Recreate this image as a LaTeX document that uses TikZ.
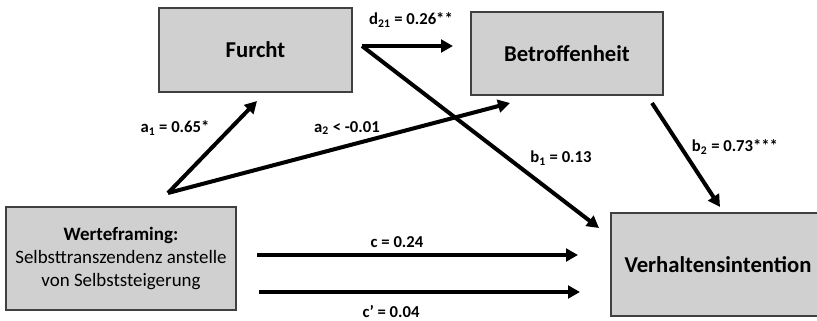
\documentclass[tikz,border=0pt]{standalone}
\usepackage{fontspec}
\setmainfont{Carlito}
\usetikzlibrary{arrows.meta}
\definecolor{kastgrau}{RGB}{208,208,208}
\begin{document}
\begin{tikzpicture}[x=0.75pt,y=-0.75pt,
  kasten/.style={draw=black!75,line width=0.8pt,fill=kastgrau,inner sep=0pt,align=center},
  titel/.style={font=\fontsize{17}{20}\selectfont\bfseries},
  beschr/.style={font=\fontsize{12.5}{15}\selectfont\bfseries,inner sep=0pt},
  pfeil/.style={line width=3pt,-{Triangle[length=9pt,width=9.5pt]}}]
\useasboundingbox (0,0) rectangle (817,321);
\node[kasten,titel,minimum width=144.75pt,minimum height=63pt] (furcht) at (255.5,50) {Furcht};
\node[kasten,titel,minimum width=144pt,minimum height=62.25pt] (betroff) at (567,53.5) {Betroffenheit};
\node[kasten,minimum width=172.5pt,minimum height=77.25pt,font=\fontsize{14.2}{17.25}\selectfont] (werte) at (121,258.5)
  {\textbf{Werteframing:}\\Selbsttranszendenz anstelle\\von Selbststeigerung};
\node[kasten,titel,minimum width=160.5pt,minimum height=77.25pt] (verhalten) at (718,264.5) {Verhaltensintention};
\coordinate (ws) at (168,193);
\coordinate (fs) at (362,46);
\coordinate (a1e) at (257,101);
\coordinate (a2e) at (510,103);
\coordinate (de) at (453,46);
\coordinate (b1e) at (599,228);
\coordinate (b2s) at (652,103);
\coordinate (b2e) at (720,207);
\coordinate (cs) at (257,255);
\coordinate (ce) at (578,255);
\coordinate (cps) at (259,292);
\coordinate (cpe) at (580,292);
\foreach \s/\e in {ws/a1e,ws/a2e,fs/de,fs/b1e,b2s/b2e,cs/ce,cps/cpe}
  \draw[pfeil] (\s) -- (\e);
\node[beschr] (la1) at (175,128) {a\textsubscript{1} = 0.65*};
\node[beschr] (la2) at (347,128) {a\textsubscript{2} < -0.01};
\node[beschr] (ld) at (411,20) {d\textsubscript{21} = 0.26**};
\node[beschr] (lb1) at (561,158) {b\textsubscript{1} = 0.13};
\node[beschr] (lb2) at (735,147) {b\textsubscript{2} = 0.73***};
\node[beschr] (lc) at (397,242) {c = 0.24};
\node[beschr] (lcp) at (391,311) {c’ = 0.04};
\end{tikzpicture}
\end{document}
